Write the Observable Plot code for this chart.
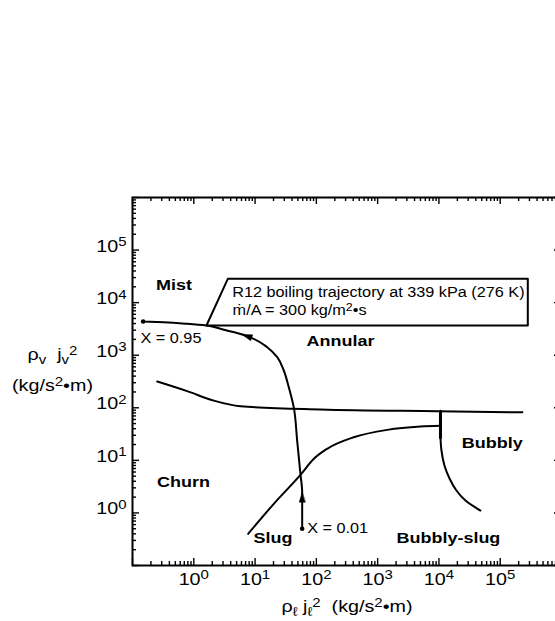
<!DOCTYPE html>
<html><head><meta charset="utf-8">
<script src="https://cdn.jsdelivr.net/npm/d3@7"></script>
<script src="https://cdn.jsdelivr.net/npm/@observablehq/plot@0.6"></script>
<style>
html,body{margin:0;padding:0;background:#fff;overflow:hidden;}
#chart svg{display:block;}
</style></head><body><div id="chart"></div>
<script>
// ---------- data ----------
const xLabelTicks = [1, 10, 100, 1000, 10000, 100000];
const xTickLabels = ["10^{0}", "10^{1}", "10^{2}", "10^{3}", "10^{4}", "10^{5}"];
const yLabelTicks = [1, 10, 100, 1000, 10000, 100000];
const yTickLabels = ["10^{0}", "10^{1}", "10^{2}", "10^{3}", "10^{4}", "10^{5}"];
const decades = [0.1, 1, 10, 100, 1000, 10000, 100000, 1000000];
const minorSteps = [2, 3, 4, 5, 6, 7, 8, 9];

// Churn / annular boundary  [rho_l j_l^2, rho_v j_v^2]
const churnAnnular = [[0.253, 316], [0.78, 207], [2.12, 137], [5.78, 107], [117, 92.7], [9400, 86], [230000, 82]];
// Slug / bubbly-slug boundary
const slugBoundary = [[7.72, 0.40], [20.2, 1.49], [55, 5.3], [91, 10.7], [150, 16.6], [408, 27.5], [1430, 38], [5000, 44], [10600, 45.4]];
// Vertical divider (annular / bubbly)
const divider = [[10600, 86], [10600, 27]];
// Bubbly / bubbly-slug boundary
const bubblyBoundary = [[10600, 27.2], [11000, 15.4], [12300, 7.98], [14900, 4.52], [19300, 2.67], [27100, 1.72], [47600, 1.11]];
// R12 boiling trajectory, X = 0.01 -> X = 0.95
const trajectory = [[58.7, 0.5], [58.7, 2.48], [55, 5.5], [48.6, 23.8], [42.8, 102], [35.5, 246], [29.4, 512], [23, 916], [15.8, 1420], [9.5, 2050], [6.17, 2480], [2.73, 3180], [1.61, 3670], [0.78, 3960], [0.324, 4240], [0.149, 4380]];
const trajectoryEnds = [[58.7, 0.5], [0.149, 4380]];
// arrow tips on the trajectory [x, y, direction in degrees clockwise from up]
const arrowTips = [[58.7, 2.48, 0], [6.17, 2480, -70]];
// annotation callout outline
const callout = [[1.61, 3670], [3.59, 28400], [282000, 28400], [282000, 3670], [1.61, 3670]];

const regionNames = ["Mist", "Annular", "Bubbly", "Churn", "Slug", "Bubbly-slug"];
const regionX = [0.475, 248, 74000, 0.68, 19.6, 14300];
const regionY = [21400, 1900, 21.5, 3.87, 0.334, 0.334];

const noteTexts = ["R12 boiling trajectory at 339 kPa (276 K)", "ṁ/A = 300 kg/m^{2}•s", "X = 0.95", "X = 0.01"];
const noteX = [4.23, 4.3, 0.135, 70.8];
const noteY = [15600, 7080, 2120, 0.5];

const xTitle = "ρ_{ℓ} j_{ℓ}^{2}  (kg/s^{2}•m)";
const yTitleLines = ["ρ_{v}  j_{v}^{2}", "(kg/s^{2}•m)"];

// ---------- chart ----------
const FONT = "'Liberation Sans', Arial, Helvetica, sans-serif";
const W = 555, H = 621, mT = 197, mB = 56, mL = 132, mR = -6;
const innerH = H - mT - mB, innerW = W - mL - mR;
const minor = decades.slice(0, -1).flatMap(d => minorSteps.map(k => k * d));
const pts = a => a.map(([x, y]) => ({x, y}));

const arrowHead = {draw(context, l, r) { context.moveTo(0, -l); context.lineTo(-r, 0); context.lineTo(r, 0); context.closePath(); }};

const tickMarks = (vals, len) => [
  Plot.ruleX(vals, {x: d => d, insetTop: innerH - len, stroke: "black", strokeWidth: 1.4}),
  Plot.ruleX(vals, {x: d => d, insetBottom: innerH - len, stroke: "black", strokeWidth: 1.4}),
  Plot.ruleY(vals, {y: d => d, insetRight: innerW - len, stroke: "black", strokeWidth: 1.4}),
  Plot.ruleY(vals, {y: d => d, insetLeft: innerW - len, stroke: "black", strokeWidth: 1.4})
];

const chart = Plot.plot({
  width: W, height: H,
  marginTop: mT, marginBottom: mB, marginLeft: mL, marginRight: mR,
  x: {type: "log", domain: [0.1, 1e6]},
  y: {type: "log", domain: [0.1, 1e6]},
  style: {fontFamily: FONT, fontSize: "14px", color: "black", background: "white", overflow: "hidden"},
  marks: [
    ...tickMarks(decades, 7),
    ...tickMarks(minor, 4),
    Plot.frame({stroke: "black", strokeWidth: 2}),
    Plot.axisX({ticks: xLabelTicks, tickFormat: d => xTickLabels[xLabelTicks.indexOf(d)], tickSize: 0, tickPadding: 7, fontSize: 17, label: null}),
    Plot.axisY({ticks: yLabelTicks, tickFormat: d => yTickLabels[yLabelTicks.indexOf(d)], tickSize: 0, tickPadding: 6, dy: -4, fontSize: 17, label: null}),
    Plot.line(pts(churnAnnular), {x: "x", y: "y", curve: "monotone-x", stroke: "black", strokeWidth: 2}),
    Plot.line(pts(slugBoundary), {x: "x", y: "y", curve: "monotone-x", stroke: "black", strokeWidth: 2}),
    Plot.line(pts(divider), {x: "x", y: "y", stroke: "black", strokeWidth: 3}),
    Plot.line(pts(bubblyBoundary), {x: "x", y: "y", curve: "catmull-rom", stroke: "black", strokeWidth: 2}),
    Plot.line(pts(trajectory), {x: "x", y: "y", curve: "monotone-y", stroke: "black", strokeWidth: 2}),
    Plot.line(pts(callout), {x: "x", y: "y", stroke: "black", strokeWidth: 2}),
    Plot.dot(pts(trajectoryEnds), {x: "x", y: "y", r: 2.3, fill: "black", stroke: "none"}),
    Plot.vector(arrowTips, {x: d => d[0], y: d => d[1], rotate: d => d[2], length: 10, r: 3, anchor: "end", shape: arrowHead, fill: "black", stroke: "black", strokeWidth: 0.5}),
    Plot.text(regionNames, {x: (d, i) => regionX[i], y: (d, i) => regionY[i], text: d => d, fontWeight: "bold", fontSize: 15.5, fill: "black", lineAnchor: "middle"}),
    Plot.text(noteTexts, {x: (d, i) => noteX[i], y: (d, i) => noteY[i], text: d => d, textAnchor: "start", fontSize: 14, fill: "black", lineAnchor: "middle"}),
    Plot.text([xTitle], {frameAnchor: "bottom", dy: 41, text: d => d, fontSize: 17, fill: "black", textAnchor: "middle", lineAnchor: "middle"}),
    Plot.text([yTitleLines[0]], {frameAnchor: "left", dx: -80, dy: -27, text: d => d, fontSize: 17, fill: "black", textAnchor: "middle", lineAnchor: "middle"}),
    Plot.text([yTitleLines[1]], {frameAnchor: "left", dx: -80, dy: 4, text: d => d, fontSize: 17, fill: "black", textAnchor: "middle", lineAnchor: "middle"})
  ]
});
document.getElementById("chart").appendChild(chart);

// rich text: ^{..} superscript, _{..} subscript; horizontal glyph stretch like the original figure
const STRETCH = 1.16;
d3.select(chart).selectAll("text").each(function() {
  const s = this.textContent;
  if (/[\^_]\{/.test(s)) {
    const fs = parseFloat(getComputedStyle(this).fontSize) || 16;
    const parts = []; const re = /([\^_])\{([^}]*)\}/g; let last = 0, m;
    while ((m = re.exec(s))) {
      if (m.index > last) parts.push({t: s.slice(last, m.index), k: ""});
      parts.push({t: m[2], k: m[1]}); last = re.lastIndex;
    }
    if (last < s.length) parts.push({t: s.slice(last), k: ""});
    this.textContent = "";
    let cur = 0;
    for (const p of parts) {
      const target = p.k === "^" ? -0.32 * fs : p.k === "_" ? 0.22 * fs : 0;
      const ts = document.createElementNS("http://www.w3.org/2000/svg", "tspan");
      if (target !== cur) ts.setAttribute("dy", (target - cur).toFixed(2));
      if (p.k) ts.setAttribute("font-size", (0.76 * fs).toFixed(2));
      ts.textContent = p.t;
      this.appendChild(ts);
      cur = target;
    }
  }
  const t = this.getAttribute("transform") || "";
  this.setAttribute("transform", t + ` scale(${STRETCH},1)`);
});
</script>
</body></html>
